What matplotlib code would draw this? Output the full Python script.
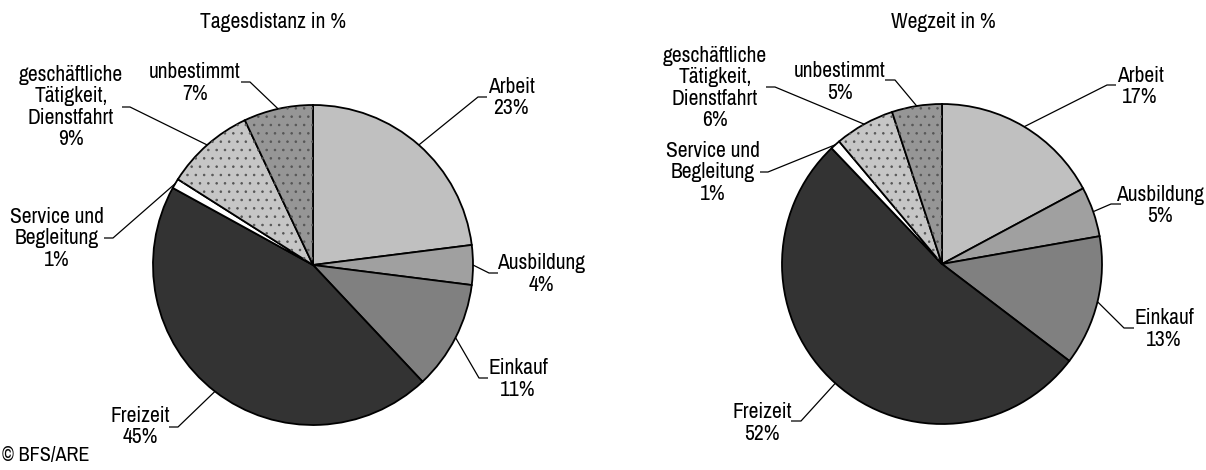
import numpy as np
import matplotlib
matplotlib.use("Agg")
import matplotlib.pyplot as plt
from matplotlib import font_manager as fm
from matplotlib.patches import Wedge

# ---------------- data ----------------
categories = ["Arbeit", "Ausbildung", "Einkauf", "Freizeit",
              "Service und\nBegleitung", "geschäftliche\nTätigkeit,\nDienstfahrt", "unbestimmt"]
tagesdistanz = [23, 4, 11, 45, 1, 9, 7]
wegzeit = [17, 5, 13, 52, 1, 6, 5]
titles = ["Tagesdistanz in %", "Wegzeit in %"]
source = "© BFS/ARE"

# ---------------- style ----------------
colors = ["#c0c0c0", "#a0a0a0", "#808080", "#333333", "#ffffff", "#c6c6c6", "#969696"]
hatches = [None, None, None, None, None, "..", ".."]
plt.rcParams["hatch.linewidth"] = 0.6

avail = set(f.name for f in fm.fontManager.ttflist)
font = "Liberation Sans"
fsize = 12
for cand, sz in [("Liberation Sans Narrow", 14), ("Arial Narrow", 14), ("Archivo Narrow", 15.5)]:
    if cand in avail:
        font, fsize = cand, sz
        break
plt.rcParams["font.family"] = [font, "DejaVu Sans"]

W, H = 1206, 470
fig = plt.figure(figsize=(W / 100, H / 100), dpi=100)
ax = fig.add_axes([0, 0, 1, 1])

def Y(y):
    return H - y

R = 160
pies = [
    dict(values=tagesdistanz, center=(313, 265), title=(273, 22),
         # per slice: text centre (x, y), kink (x, y), end of horizontal (x)
         labels=[((511, 97.5), (478, 97), 487),
                 ((541, 274), (489, 273), 498),
                 ((518, 379), (479, 378), 488),
                 ((140, 426.5), (178, 427), 169),
                 ((57, 238.5), (113, 238), 104),
                 ((71, 107), (130, 107), 122),
                 ((195, 83), (250, 82), 241)]),
    dict(values=wegzeit, center=(942, 264), title=(943, 22),
         labels=[((1140, 86.5), (1107, 85), 1116),
                 ((1160, 205.5), (1111, 204), 1121),
                 ((1164, 329), (1124, 328), 1134),
                 ((762, 423), (801, 421), 791),
                 ((713, 172.5), (768, 172), 760),
                 ((715, 88), (775, 87), 766),
                 ((840, 82), (895, 80), 885)]),
]

for i, p in enumerate(pies):
    vals = p["values"]
    cx, cy = p["center"]
    wedges, _ = ax.pie(vals, colors=colors, startangle=90, counterclock=False,
                       center=(cx, Y(cy)), radius=R, normalize=True,
                       wedgeprops=dict(edgecolor="black", linewidth=1.3))
    for w, h in zip(wedges, hatches):
        if h:
            ov = Wedge(w.center, w.r, w.theta1, w.theta2, facecolor="none",
                       edgecolor="#555555", linewidth=0, hatch=h, zorder=w.get_zorder() + 0.1)
            ax.add_patch(ov)
    ax.text(p["title"][0], Y(p["title"][1]), titles[i],
            ha="center", va="center", fontsize=fsize)
    for w, cat, v, (tpos, kink, endx) in zip(wedges, categories, vals, p["labels"]):
        ang = np.deg2rad((w.theta1 + w.theta2) / 2)
        px = cx + R * np.cos(ang)
        py = Y(cy) + R * np.sin(ang)
        ax.plot([px, kink[0], endx], [py, Y(kink[1]), Y(kink[1])],
                color="black", lw=0.9, solid_capstyle="butt")
        ax.text(tpos[0], Y(tpos[1]), f"{cat}\n{v}%", ha="center", va="center",
                fontsize=fsize, linespacing=1.1)

ax.text(2, Y(456), source, ha="left", va="center", fontsize=fsize - 1)

ax.set_xlim(0, W)
ax.set_ylim(0, H)
ax.set_aspect("equal")
ax.axis("off")

fig.savefig("out.png", dpi=100)
